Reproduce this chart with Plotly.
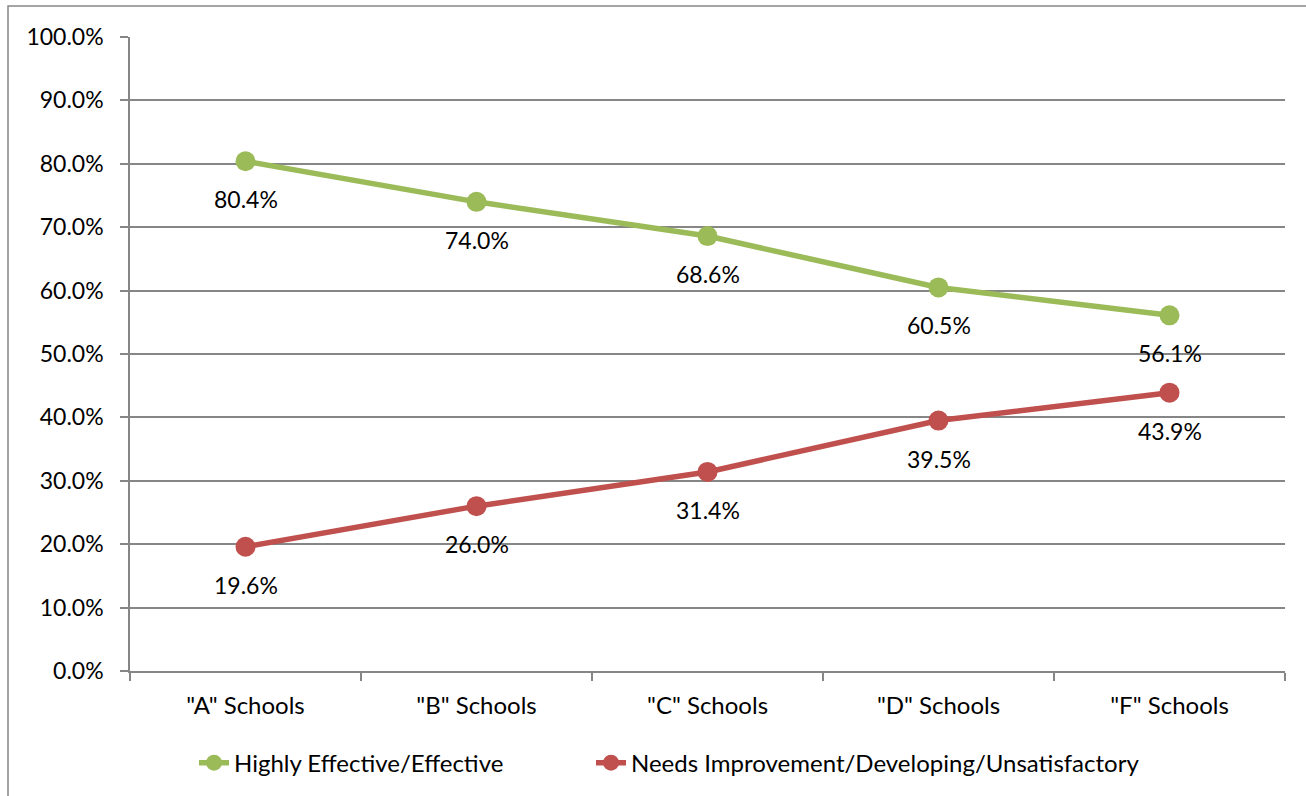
import plotly.graph_objects as go

categories = ['"A" Schools', '"B" Schools', '"C" Schools', '"D" Schools', '"F" Schools']
effective = [0.804, 0.740, 0.686, 0.605, 0.561]
needs_improvement = [0.196, 0.260, 0.314, 0.395, 0.439]

GREEN = "#9BBB59"
RED = "#C0504D"
GRID = "#868686"
FONT = "Lato, 'Open Sans', sans-serif"

fig = go.Figure()
fig.add_trace(go.Scatter(
    x=categories, y=effective, name="Highly Effective/Effective",
    mode="lines+markers", legend="legend",
    line=dict(color=GREEN, width=5.5),
    marker=dict(color=GREEN, size=20),
))
fig.add_trace(go.Scatter(
    x=categories, y=needs_improvement,
    name="Needs Improvement/Developing/Unsatisfactory",
    mode="lines+markers", legend="legend2",
    line=dict(color=RED, width=5.5),
    marker=dict(color=RED, size=20),
))

# value labels under each point
for series in (effective, needs_improvement):
    for cat, v in zip(categories, series):
        fig.add_annotation(
            x=cat, y=v, text=f"{v * 100:.1f}%", showarrow=False,
            yshift=-38, font=dict(size=23, color="#000000", family=FONT),
        )

W, H = 1306, 796
L, R, T, B = 130, 21, 37, 124
pw, ph = W - L - R, H - T - B

# outer frame of the chart
fig.add_shape(
    type="rect", xref="paper", yref="paper",
    x0=(8 - L) / pw, x1=(W + 20 - L) / pw,
    y0=-(H + 20 - (H - B)) / ph, y1=((H - B) - 6) / ph,
    line=dict(color=GRID, width=1.5), fillcolor="rgba(0,0,0,0)", layer="below",
)

legend_common = dict(
    orientation="h", xanchor="left", y=-0.108, yanchor="top",
    font=dict(size=24, family=FONT), bgcolor="rgba(0,0,0,0)",
)

fig.update_layout(
    width=W, height=H,
    margin=dict(l=L, r=R, t=T, b=B),
    paper_bgcolor="white", plot_bgcolor="white",
    font=dict(family=FONT, size=22, color="#000000"),
    showlegend=True,
    legend=dict(x=(194 - L) / pw, **legend_common),
    legend2=dict(x=(591 - L) / pw, **legend_common),
    xaxis=dict(
        type="category", range=[-0.5, 4.5],
        showgrid=False, showline=True, linecolor=GRID, linewidth=1.5,
        ticks="outside", tickson="boundaries", ticklen=8, tickcolor=GRID, tickwidth=1.5,
        ticklabelstandoff=12, tickfont=dict(size=24),
        zeroline=False,
    ),
    yaxis=dict(
        range=[0, 1], dtick=0.1, tickformat=".1%",
        showgrid=True, gridcolor=GRID, gridwidth=1.5,
        showline=True, linecolor=GRID, linewidth=1.5,
        ticks="outside", ticklen=8, tickcolor=GRID, tickwidth=1.5,
        ticklabelstandoff=12, tickfont=dict(size=23),
        zeroline=False,
    ),
)

fig.write_html("out.html")
